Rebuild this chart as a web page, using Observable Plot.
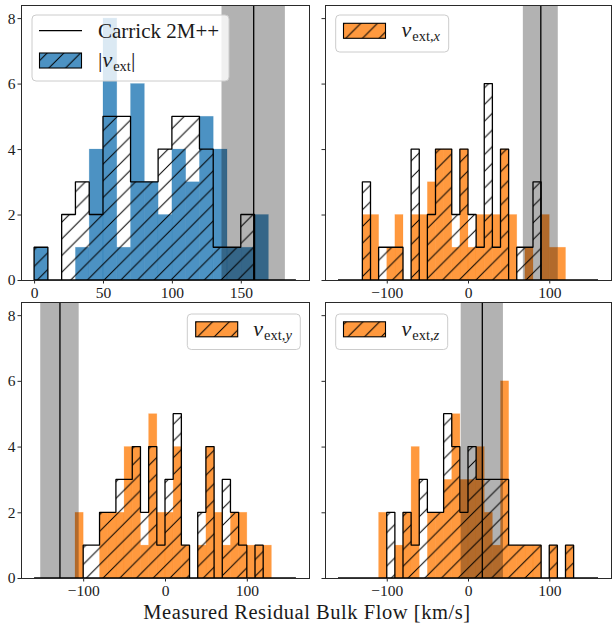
<!DOCTYPE html>
<html><head><meta charset="utf-8">
<script src="https://cdn.jsdelivr.net/npm/d3@7"></script>
<script src="https://cdn.jsdelivr.net/npm/@observablehq/plot@0.6"></script>
<style>
html,body{margin:0;padding:0;background:#fff;}
#fig{position:relative;width:612px;height:626px;overflow:hidden;font-family:"Liberation Serif",serif;background:#fff;}
#fig > svg{position:absolute;}
</style></head><body>
<div id="fig"></div>
<script>
// ---- data ----
// bin edges
const absEdges = [0,10,20,30,40,50,60,70,80,90,100,110,120,130,140,150,160,170,180,190];
const compEdges = [-160,-150,-140,-130,-120,-110,-100,-90,-80,-70,-60,-50,-40,-30,-20,-10,0,10,20,30,40,50,60,70,80,90,100,110,120,130,140,150,160];
// |v_ext| panel
const absHatched = [1,0,2,3,2,5,5,3,3,4,5,5,4,1,1,2,0,0,0];
const absFilled  = [1,0,0,1,4,8,1,6,3,2,4,3,5,4,1,1,2,0,0];
// v_ext,x
const xHatched = [0,0,0,3,0,1,1,1,0,4,0,2,4,4,2,4,2,1,6,1,4,0,1,1,3,0,0,0,0,0,0,0];
const xFilled  = [0,0,0,2,2,0,1,2,0,2,2,3,4,4,1,4,1,2,2,2,4,2,0,1,0,2,1,1,0,0,0,0];
// v_ext,y
const yHatched = [0,0,0,0,0,0,1,1,2,2,3,3,4,2,4,1,3,5,1,0,2,4,0,3,2,1,0,1,0,0,0,0];
const yFilled  = [0,0,0,0,0,2,0,0,2,2,2,4,4,1,5,2,2,4,1,0,1,4,2,1,2,2,1,1,1,0,0,0];
// v_ext,z
const zHatched = [0,0,0,0,0,0,2,0,2,1,3,2,2,5,4,2,4,3,3,3,3,1,1,1,1,0,1,0,1,0,0,0];
const zFilled  = [0,0,0,0,0,2,0,1,2,4,0,2,2,3,5,3,3,4,2,1,6,1,1,1,1,0,1,0,1,0,0,0];
// Carrick 2M++ reference values (centre and 1-sigma)
const carrickValue = [159, 89, -129, 17];
const carrickError = [23, 21.5, 23.5, 26];
// axes
const absTicks = [0,50,100,150];
const compTicks = [-100,0,100];
const countTicks = [0,2,4,6,8];
const legendLabels = ["Carrick 2M++", "|v_ext|", "v_ext,x", "v_ext,y", "v_ext,z"];
const xLabel = "Measured Residual Bulk Flow [km/s]";

const BLUE = "#1f77b4", ORANGE = "#ff7f0e";
const FONT = "Liberation Serif";
const fig = document.getElementById("fig");

function panel(o) {
  const bars = o.filled.map((c, i) => ({x1: o.edges[i], x2: o.edges[i + 1], c}));
  const steps = o.hatched.map((c, i) => ({x: o.edges[i], c}));
  steps.push({x: o.edges[o.edges.length - 1], c: o.hatched[o.hatched.length - 1]});
  const lo = o.center - o.err, hi = o.center + o.err;
  const svg = Plot.plot({
    width: o.width, height: o.height,
    marginLeft: o.mL, marginRight: o.mR, marginTop: o.mT, marginBottom: o.mB,
    x: {domain: o.xdomain},
    y: {domain: [0, 8.4]},
    style: {fontFamily: FONT, fontSize: "15.5px", color: "#1a1a1a", background: "transparent", overflow: "visible"},
    marks: [
      Plot.rect(bars, {x1: "x1", x2: "x2", y1: d => 0, y2: "c", fill: o.color, fillOpacity: 0.8,
        stroke: o.color, strokeOpacity: 0.25, strokeWidth: 0.7}),
      Plot.rect([{lo, hi}], {x1: "lo", x2: "hi", fill: "black", fillOpacity: 0.3}),
      Plot.area(steps, {x1: "x", y1: d => 0, y2: "c", curve: "step-after", fill: "url(#hatch)",
        stroke: "black", strokeWidth: 1.3, strokeLinejoin: "miter"}),
      Plot.ruleX([o.center], {stroke: "black", strokeWidth: 1.3}),
      Plot.frame({stroke: "#2a2a2a", strokeWidth: 1}),
      Plot.axisX({ticks: o.xticks, tickSize: 3.5, tickPadding: 2.5, label: null, stroke: "#2a2a2a"}),
      Plot.axisY({ticks: countTicks, tickSize: 3.5, tickPadding: 2.5, label: null, stroke: "#2a2a2a",
        tickFormat: o.showY ? (d => String(d)) : (() => "")})
    ]
  });
  svg.style.position = "absolute";
  svg.style.left = o.left + "px";
  svg.style.top = o.top + "px";
  svg.style.maxWidth = "none";
  fig.appendChild(svg);
}

panel({edges: absEdges, filled: absFilled, hatched: absHatched, color: BLUE,
  center: carrickValue[0], err: carrickError[0], xdomain: [-9.5, 199.5], xticks: absTicks, showY: true,
  left: 0, top: 0, width: 312, height: 300, mL: 21, mR: 3, mT: 5, mB: 20});
panel({edges: compEdges, filled: xFilled, hatched: xHatched, color: ORANGE,
  center: carrickValue[1], err: carrickError[1], xdomain: [-176, 176], xticks: compTicks, showY: false,
  left: 305, top: 0, width: 307, height: 300, mL: 20, mR: 1, mT: 5, mB: 20});
panel({edges: compEdges, filled: yFilled, hatched: yHatched, color: ORANGE,
  center: carrickValue[2], err: carrickError[2], xdomain: [-176, 176], xticks: compTicks, showY: true,
  left: 0, top: 297, width: 312, height: 303, mL: 21, mR: 3, mT: 5, mB: 22});
panel({edges: compEdges, filled: zFilled, hatched: zHatched, color: ORANGE,
  center: carrickValue[3], err: carrickError[3], xdomain: [-176, 176], xticks: compTicks, showY: false,
  left: 305, top: 297, width: 307, height: 303, mL: 20, mR: 1, mT: 5, mB: 22});

// ---- overlay: hatch pattern, legends, x label ----
const ov = d3.select(fig).append("svg")
  .attr("width", 612).attr("height", 626)
  .style("left", "0px").style("top", "0px")
  .style("font-family", FONT).style("pointer-events", "none");
const S = 16.7;
ov.append("defs").append("pattern")
  .attr("id", "hatch").attr("patternUnits", "userSpaceOnUse")
  .attr("width", S).attr("height", S)
  .append("path")
  .attr("d", `M-2,2L2,-2M0,${S}L${S},0M${S-2},${S+2}L${S+2},${S-2}`)
  .attr("stroke", "black").attr("stroke-width", 1).attr("fill", "none");

function legendBox(x, y, w, h) {
  ov.append("rect").attr("x", x).attr("y", y).attr("width", w).attr("height", h)
    .attr("rx", 4).attr("fill", "white").attr("fill-opacity", 0.8)
    .attr("stroke", "#cccccc").attr("stroke-width", 1);
}
function patch(x, y, color) {
  ov.append("rect").attr("x", x).attr("y", y).attr("width", 42).attr("height", 15)
    .attr("fill", color).attr("fill-opacity", 0.8);
  ov.append("rect").attr("x", x).attr("y", y).attr("width", 42).attr("height", 15)
    .attr("fill", "url(#hatch)").attr("stroke", "black").attr("stroke-width", 1.1);
}
function mathLabel(x, y, sub) {
  const t = ov.append("text").attr("x", x).attr("y", y).attr("fill", "#1a1a1a");
  t.append("tspan").attr("font-size", 22).attr("font-style", "italic").text("v");
  t.append("tspan").attr("font-size", 14.5).attr("dy", 4).attr("dx", 1).text("ext,");
  t.append("tspan").attr("font-size", 14.5).attr("font-style", "italic").text(sub);
}

// panel 1 legend
legendBox(32, 15, 197, 66);
ov.append("line").attr("x1", 39).attr("x2", 82).attr("y1", 30.7).attr("y2", 30.7)
  .attr("stroke", "black").attr("stroke-width", 1.3);
ov.append("text").attr("x", 98).attr("y", 37.5).attr("font-size", 21).attr("fill", "#1a1a1a").text(legendLabels[0]);
patch(39.5, 53, BLUE);
{
  const t = ov.append("text").attr("x", 98).attr("y", 67).attr("fill", "#1a1a1a");
  t.append("tspan").attr("font-size", 22).text("|");
  t.append("tspan").attr("font-size", 22).attr("font-style", "italic").text("v");
  t.append("tspan").attr("font-size", 14.5).attr("dy", 4).attr("dx", 1).text("ext");
  t.append("tspan").attr("font-size", 22).attr("dy", -4).text("|");
}
// panel 2 legend
legendBox(335.7, 15, 113, 37);
patch(343.5, 23.3, ORANGE);
mathLabel(401.5, 37.3, "x");
// panel 3 legend
legendBox(187.3, 314, 113, 35.5);
patch(195.7, 321.8, ORANGE);
mathLabel(253.3, 336.2, "y");
// panel 4 legend
legendBox(335.7, 314, 112, 35.5);
patch(343.5, 321.8, ORANGE);
mathLabel(401.5, 336.2, "z");

// shared x label
ov.append("text").attr("x", 307).attr("y", 619).attr("text-anchor", "middle")
  .attr("font-size", 20.5).attr("letter-spacing", "0.55px").attr("fill", "#1a1a1a").text(xLabel);
</script>
</body></html>
